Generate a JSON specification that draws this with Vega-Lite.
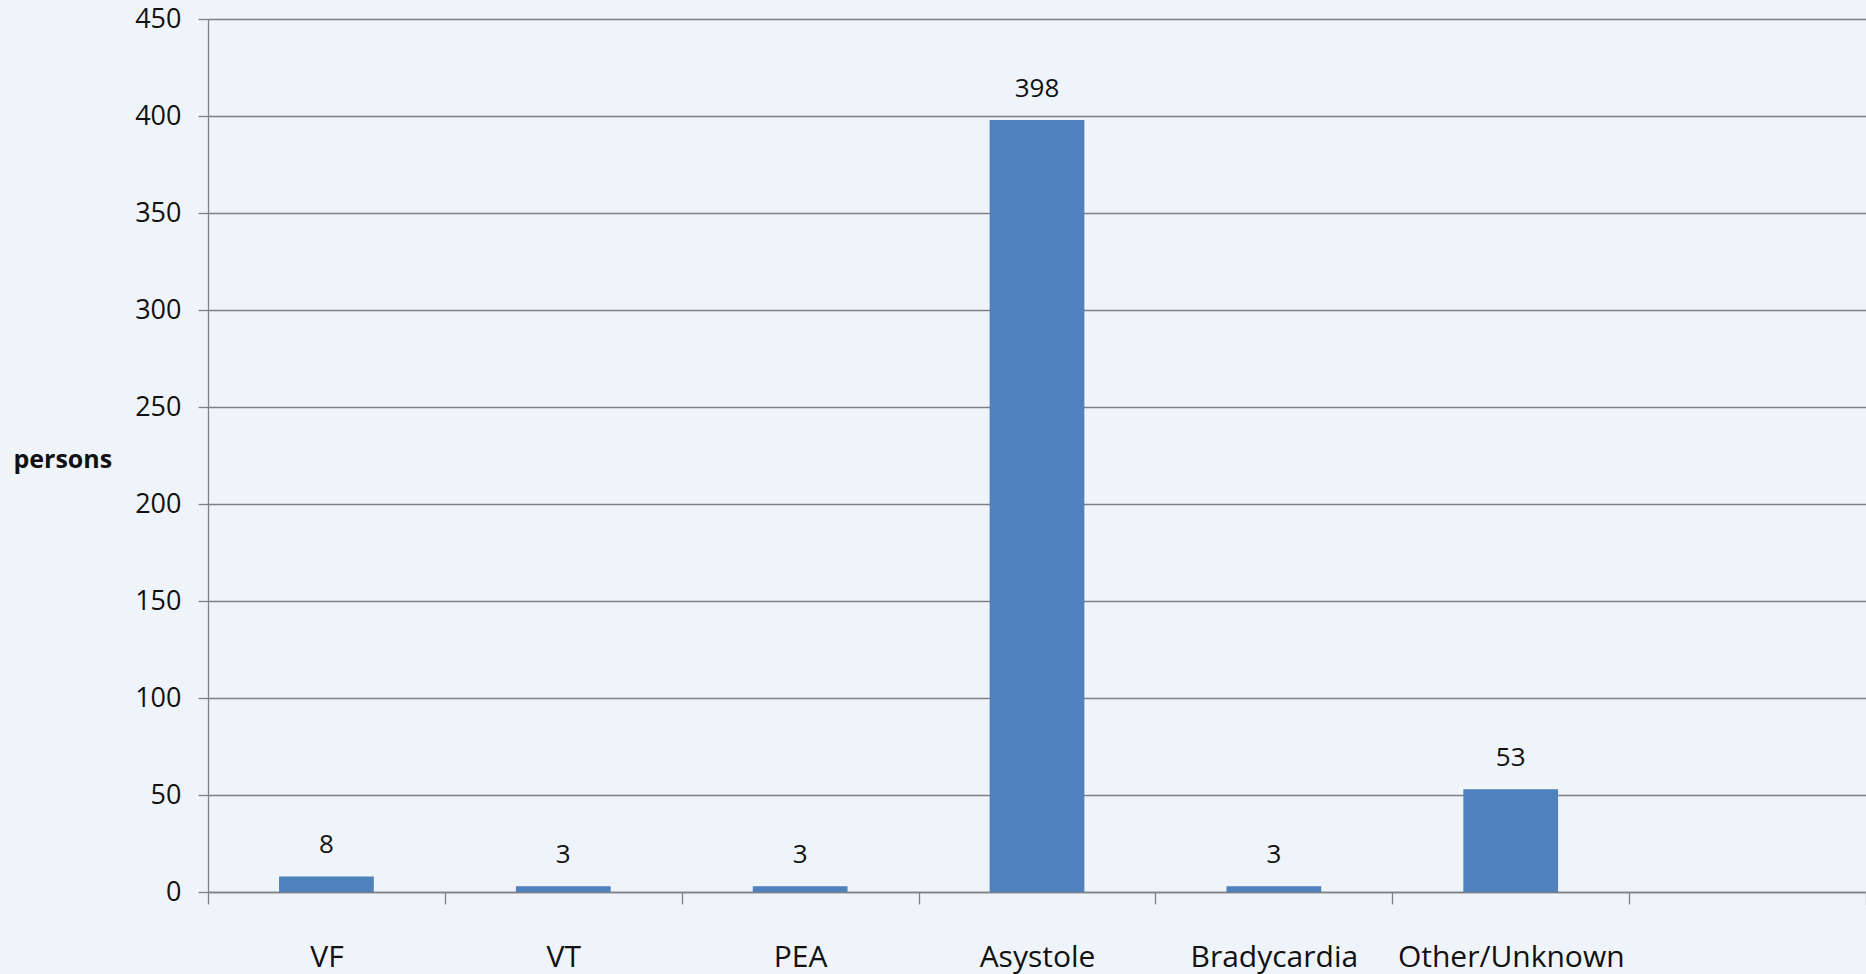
{
  "$schema": "https://vega.github.io/schema/vega-lite/v6.json",
  "width": 1658,
  "height": 873,
  "autosize": {"type": "none"},
  "padding": {"left": 208, "top": 19, "right": 0, "bottom": 82},
  "background": "#eff4fb",
  "config": {
    "view": {"stroke": null},
    "font": "Open Sans"
  },
  "data": {
    "values": [
      {"rhythm": "VF", "persons": 8},
      {"rhythm": "VT", "persons": 3},
      {"rhythm": "PEA", "persons": 3},
      {"rhythm": "Asystole", "persons": 398},
      {"rhythm": "Bradycardia", "persons": 3},
      {"rhythm": "Other/Unknown", "persons": 53}
    ]
  },
  "encoding": {
    "x": {
      "field": "rhythm",
      "type": "nominal",
      "sort": null,
      "scale": {
        "domain": ["VF", "VT", "PEA", "Asystole", "Bradycardia", "Other/Unknown", " "],
        "paddingInner": 0,
        "paddingOuter": 0
      },
      "axis": {
        "title": null,
        "labelAngle": 0,
        "labelFont": "Open Sans",
        "labelFontSize": 30,
        "labelLimit": 0,
        "labelColor": "#111111",
        "labelBaseline": "alphabetic",
        "labelPadding": 62,
        "tickBand": "extent",
        "tickSize": 12,
        "tickColor": "#808080",
        "tickWidth": 1.3,
        "domainColor": "#808080",
        "domainWidth": 1.3,
        "grid": false
      }
    },
    "y": {
      "field": "persons",
      "type": "quantitative",
      "scale": {"domain": [0, 450], "nice": false},
      "axis": {
        "values": [0, 50, 100, 150, 200, 250, 300, 350, 400, 450],
        "title": "persons",
        "titleAngle": 0,
        "titleFont": "Open Sans",
        "titleFontSize": 25,
        "titleFontWeight": "bold",
        "titleColor": "#111111",
        "titleAlign": "left",
        "titleBaseline": "alphabetic",
        "titleX": -195,
        "titleY": 448,
        "labelFont": "Open Sans",
        "labelFontSize": 27,
        "labelColor": "#111111",
        "labelPadding": 17,
        "tickSize": 10,
        "tickColor": "#808080",
        "tickWidth": 1.3,
        "domainColor": "#808080",
        "domainWidth": 1.3,
        "grid": true,
        "gridColor": "#808080",
        "gridWidth": 1.3
      }
    }
  },
  "layer": [
    {
      "mark": {"type": "bar", "color": "#4f81bd", "width": {"band": 0.4}}
    },
    {
      "mark": {
        "type": "text",
        "baseline": "alphabetic",
        "align": "center",
        "dy": -23,
        "font": "Open Sans",
        "fontSize": 26,
        "color": "#111111"
      },
      "encoding": {"text": {"field": "persons", "type": "quantitative"}}
    }
  ]
}
